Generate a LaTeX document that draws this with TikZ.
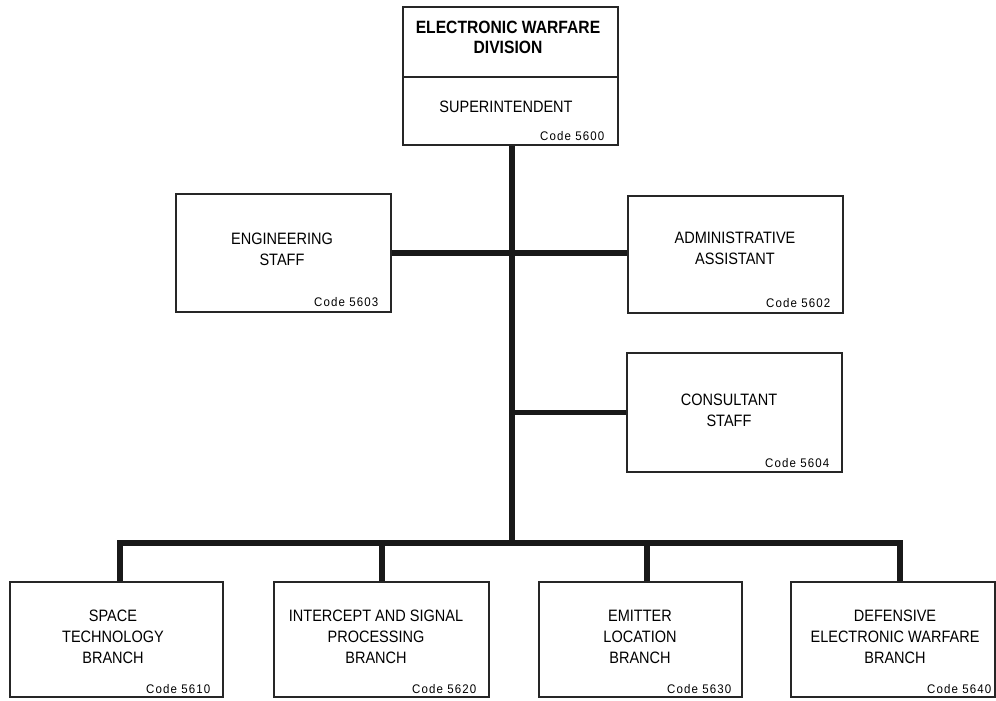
\documentclass[tikz,border=0pt]{standalone}
\usepackage{fontspec}
\setmainfont{Liberation Sans}[FakeStretch=0.88]
\newfontfamily\codefont{Liberation Sans}[LetterSpace=9,FakeStretch=0.92]
\begin{document}
\begin{tikzpicture}[x=1pt,y=-1pt,
  box/.style={draw=black!85, line width=1.1pt, inner sep=0pt, fill=white},
  lbl/.style={align=center, font=\fontsize{16.5}{21}\selectfont, inner sep=0pt},
  code/.style={anchor=base east, font=\codefont\fontsize{12.5}{14}\selectfont, inner sep=0pt},
  conn/.style={line width=5.5pt, black!90, line join=miter}]
\useasboundingbox[fill=white] (0,0) rectangle (996,701);
% top box
\node[box, minimum width=215pt, minimum height=70pt] (div) at (510.5,42) {};
\node[box, minimum width=215pt, minimum height=68pt] (sup) at (510.5,111) {};
\node[lbl, font=\bfseries\fontsize{17.8}{20}\selectfont] at (508,37) {ELECTRONIC WARFARE\\DIVISION};
\node[lbl] at (506,107) {SUPERINTENDENT};
\node[code] at ([xshift=-14pt,yshift=5pt]sup.south east) {Code 5600};
% staff boxes
\node[box, minimum width=215pt, minimum height=118pt] (eng) at (283.5,253) {};
\node[lbl] at (282,249) {ENGINEERING\\STAFF};
\node[code] at ([xshift=-13pt,yshift=6pt]eng.south east) {Code 5603};
\node[box, minimum width=215pt, minimum height=117pt] (adm) at (735.5,254.5) {};
\node[lbl] at (735,248) {ADMINISTRATIVE\\ASSISTANT};
\node[code] at ([xshift=-13pt,yshift=6pt]adm.south east) {Code 5602};
\node[box, minimum width=215pt, minimum height=119pt] (con) at (734.5,412.5) {};
\node[lbl] at (729,410) {CONSULTANT\\STAFF};
\node[code] at ([xshift=-13pt,yshift=5pt]con.south east) {Code 5604};
% branches
\node[box, minimum width=213pt, minimum height=115pt] (b1) at (116.5,639.5) {};
\node[lbl] at (113,637) {SPACE\\TECHNOLOGY\\BRANCH};
\node[code] at ([xshift=-13pt,yshift=4pt]b1.south east) {Code 5610};
\node[box, minimum width=215pt, minimum height=115pt] (b2) at (381.5,639.5) {};
\node[lbl] at (376,637) {INTERCEPT AND SIGNAL\\PROCESSING\\BRANCH};
\node[code] at ([xshift=-13pt,yshift=4pt]b2.south east) {Code 5620};
\node[box, minimum width=203pt, minimum height=115pt] (b3) at (640.5,639.5) {};
\node[lbl] at (640,637) {EMITTER\\LOCATION\\BRANCH};
\node[code] at ([xshift=-11pt,yshift=4pt]b3.south east) {Code 5630};
\node[box, minimum width=204pt, minimum height=115pt] (b4) at (893,639.5) {};
\node[lbl] at (895,637) {DEFENSIVE\\ELECTRONIC WARFARE\\BRANCH};
\node[code] at ([xshift=-4pt,yshift=4pt]b4.south east) {Code 5640};
% connectors
\coordinate (busL) at (120,543);
\coordinate (busR) at (900,543);
\coordinate (trunk) at (512,543);
\coordinate (d2) at (382,543);
\coordinate (d3) at (647,543);
\draw[conn] (sup.south -| trunk) -- (trunk);
\draw[conn] (eng.east) -- (eng.east -| adm.west);
\draw[conn] (con.west -| trunk) -- (con.west);
\draw[conn] (b1.north -| busL) -- (busL) -- (busR) -- (b4.north -| busR);
\draw[conn] (b2.north -| d2) -- (d2);
\draw[conn] (b3.north -| d3) -- (d3);
\end{tikzpicture}
\end{document}
